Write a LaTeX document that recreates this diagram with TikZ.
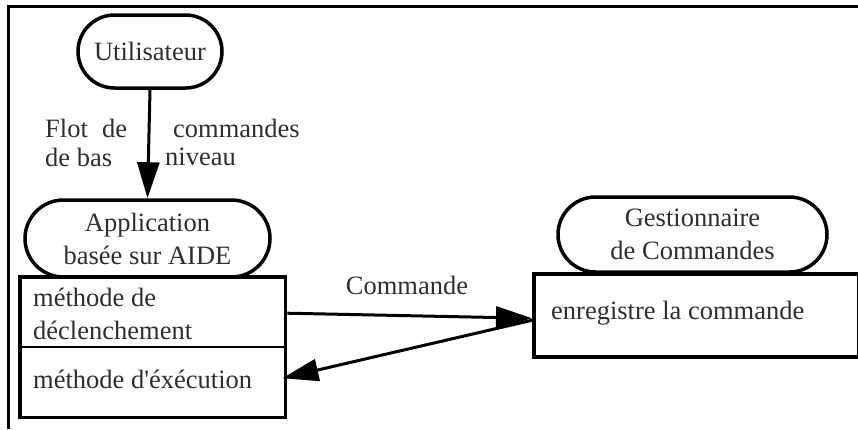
\documentclass[tikz,border=0pt]{standalone}
\usepackage{fontspec}
\setmainfont{Liberation Serif}
\usetikzlibrary{arrows.meta,shapes.misc,calc}
\begin{document}
\begin{tikzpicture}[x=1pt,y=-1pt,
  every node/.style={font=\fontsize{26.5}{33}\selectfont, text=black!82},
  stadium/.style={rounded rectangle, draw=black, line width=3.5pt, inner sep=0pt, align=center},
  boxpart/.style={rectangle, inner sep=0pt, align=left, anchor=north west},
  lbl/.style={inner sep=0pt, anchor=west},
  flow/.style={line width=3pt, -{Triangle[length=36pt,width=22pt]}}
]
\useasboundingbox (0,0) rectangle (858,429);
% frame
\draw[line width=3pt] (858,6) -- (8,6) -- (8,429);

% Utilisateur
\node[stadium, minimum width=144pt, minimum height=73pt] (u) at (150,51.5) {Utilisateur};

% Application
\node[stadium, minimum width=245pt, minimum height=77pt] (app) at (147.5,238.5) {Application\\basée sur AIDE};

% method boxes
\node[boxpart, minimum width=265pt, minimum height=70pt] (decl) at (20,277) {};
\node[boxpart, minimum width=265pt, minimum height=70pt] (exec) at (20,347) {};
\draw[line width=3.5pt] (decl.north west) rectangle (exec.south east);
\draw[line width=2pt] (decl.south west) -- (decl.south east);
\node[lbl, align=left] (dtxt) at (33,314) {méthode de\\déclenchement};
\node[lbl] (etxt) at (33,379) {méthode d\textquotesingle éxécution};

% Gestionnaire
\node[stadium, minimum width=269pt, minimum height=75pt] (gest) at (692.5,234.5) {Gestionnaire\\de Commandes};
\node[boxpart, draw=black, line width=3.5pt, minimum width=325pt, minimum height=83pt] (gbox) at (532,272) {};
\node[lbl] (gtxt) at (551,313) {enregistre la commande};

% vertical flow
\draw[flow] (u.south) -- (app.north);
\node[lbl] (l1) at (45,128) {\makebox[82pt][s]{Flot de}};
\node[lbl] (l2) at (45,157) {de bas};
\node[lbl] (r1) at (173,128) {commandes};
\node[lbl] (r2) at (165,157) {niveau};

% horizontal flows
\coordinate (gin) at ($(gbox.west)+(0,3)$);
\coordinate (gout) at ($(gbox.west)+(0,5)$);
\draw[flow] ($(decl.east)+(2,1)$) -- (gin);
\draw[flow] (gout) -- ($(exec.east)+(-3,-4)$);
\node (cmd) at (407,285) {Commande};
\end{tikzpicture}
\end{document}
